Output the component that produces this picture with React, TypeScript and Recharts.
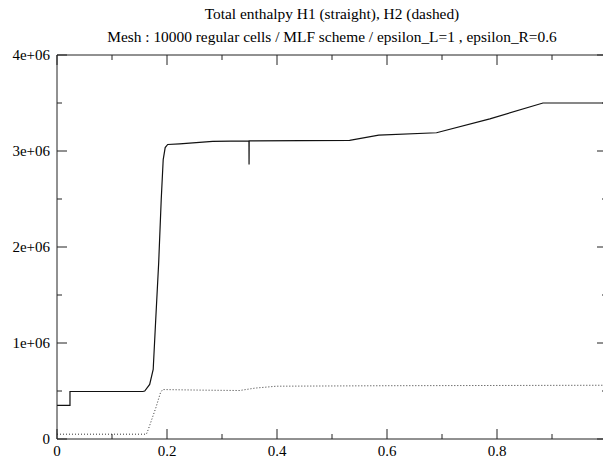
import React from 'react';
import { LineChart, Line, XAxis, YAxis } from 'recharts';

// H1 (solid) samples
const h1X = [0, 0.0236, 0.0236, 0.156, 0.1595, 0.1685, 0.1749, 0.1795, 0.1849, 0.1895, 0.1931, 0.1967, 0.2013, 0.223, 0.283, 0.349, 0.3492, 0.3494, 0.532, 0.585, 0.69, 0.787, 0.8836, 1.0];
const h1Y = [0.35e6, 0.35e6, 0.495e6, 0.495e6, 0.5e6, 0.568e6, 0.724e6, 1.245e6, 1.839e6, 2.495e6, 2.911e6, 3.036e6, 3.068e6, 3.075e6, 3.1e6, 3.105e6, 2.86e6, 3.105e6, 3.11e6, 3.165e6, 3.19e6, 3.335e6, 3.5e6, 3.5e6];

// H2 (dotted)
const h2X = [0, 0.1625, 0.166, 0.18, 0.188, 0.192, 0.25, 0.332, 0.36, 0.399, 0.6, 1.0];
const h2Y = [0.05e6, 0.05e6, 0.1e6, 0.33e6, 0.48e6, 0.515e6, 0.51e6, 0.505e6, 0.53e6, 0.55e6, 0.555e6, 0.56e6];

const xTicks = [0, 0.1, 0.2, 0.3, 0.4, 0.5, 0.6, 0.7, 0.8, 0.9, 1.0];
const xLabels = ['0', '', '0.2', '', '0.4', '', '0.6', '', '0.8', '', ''];
const yTicks = [0, 0.5e6, 1e6, 1.5e6, 2e6, 2.5e6, 3e6, 3.5e6, 4e6];
const yLabels = ['0', '', '1e+06', '', '2e+06', '', '3e+06', '', '4e+06'];

const title1 = 'Total enthalpy H1 (straight), H2 (dashed)';
const title2 = 'Mesh : 10000 regular cells / MLF scheme / epsilon_L=1 , epsilon_R=0.6';

const h1Data = h1X.map((x, i) => ({ x, v: h1Y[i] }));
const h2Data = h2X.map((x, i) => ({ x, v: h2Y[i] }));

const AXIS = '#222';
const FONT = '"Liberation Serif", "Times New Roman", serif';

const isMajor = (i: number) => i % 2 === 0;

function BottomTick(props: any) {
  const { x, y, index } = props;
  const len = isMajor(index) ? 10 : 5;
  return (
    <g>
      <line x1={x} y1={y} x2={x} y2={y - len} stroke={AXIS} />
      <text x={x} y={y + 17} textAnchor="middle" fontSize={15} fontFamily={FONT} fill="#000">
        {xLabels[index]}
      </text>
    </g>
  );
}

function TopTick(props: any) {
  const { x, y, index } = props;
  const len = isMajor(index) ? 10 : 5;
  return <line x1={x} y1={y} x2={x} y2={y + len} stroke={AXIS} />;
}

function LeftTick(props: any) {
  const { x, y, index } = props;
  const len = isMajor(index) ? 10 : 5;
  return (
    <g>
      <line x1={x} y1={y} x2={x + len} y2={y} stroke={AXIS} />
      <text x={x - 7} y={y} dy="0.35em" textAnchor="end" fontSize={15} fontFamily={FONT} fill="#000">
        {yLabels[index]}
      </text>
    </g>
  );
}

function RightTick(props: any) {
  const { x, y, index } = props;
  const len = isMajor(index) ? 10 : 5;
  return <line x1={x} y1={y} x2={x - len} y2={y} stroke={AXIS} />;
}

export default function App() {
  return (
    <div style={{ position: 'fixed', left: 0, top: 0, width: 603, height: 459, overflow: 'hidden', background: '#fff' }}>
      <div style={{ position: 'absolute', left: 57, width: 550, top: 5, textAlign: 'center', fontFamily: FONT, fontSize: 15.4, lineHeight: '18px', color: '#000' }}>
        <div>{title1}</div>
        <div style={{ marginTop: 5 }}>{title2}</div>
      </div>
      <LineChart width={620} height={459} margin={{ top: 54, right: 12, bottom: 0, left: 0 }}>
        <XAxis xAxisId="b" dataKey="x" type="number" domain={[0, 1]} allowDataOverflow ticks={xTicks} interval={0}
          height={20} tickSize={0} tickMargin={0} tickLine={false} axisLine={{ stroke: AXIS }} tick={BottomTick} />
        <XAxis xAxisId="t" orientation="top" dataKey="x" type="number" domain={[0, 1]} allowDataOverflow ticks={xTicks} interval={0}
          height={1} tickSize={0} tickMargin={0} tickLine={false} axisLine={{ stroke: AXIS }} tick={TopTick} />
        <YAxis yAxisId="l" type="number" domain={[0, 4e6]} allowDataOverflow ticks={yTicks} interval={0}
          width={57} tickSize={0} tickMargin={0} tickLine={false} axisLine={{ stroke: AXIS }} tick={LeftTick} />
        <YAxis yAxisId="r" orientation="right" type="number" domain={[0, 4e6]} allowDataOverflow ticks={yTicks} interval={0}
          width={1} tickSize={0} tickMargin={0} tickLine={false} axisLine={{ stroke: AXIS }} tick={RightTick} />
        <Line xAxisId="b" yAxisId="l" data={h1Data} dataKey="v" type="linear" stroke="#111" strokeWidth={1.2}
          dot={false} isAnimationActive={false} />
        <Line xAxisId="t" yAxisId="r" data={h2Data} dataKey="v" type="linear" stroke="#333" strokeWidth={1}
          strokeDasharray="1 2" dot={false} isAnimationActive={false} />
      </LineChart>
    </div>
  );
}
